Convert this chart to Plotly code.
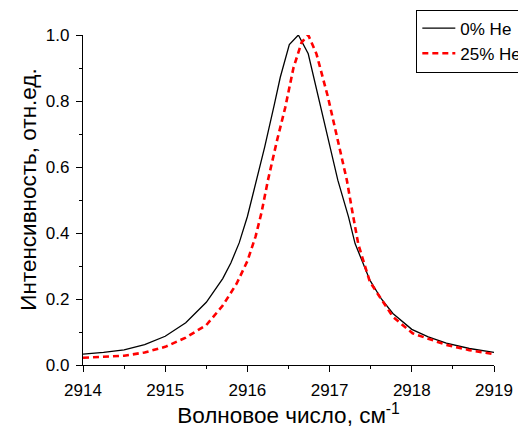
import plotly.graph_objects as go

# 0% He
x_he0 = [2914.0, 2914.25, 2914.5, 2914.75, 2915.0, 2915.25, 2915.5, 2915.7, 2915.8, 2915.9,
         2916.0, 2916.11, 2916.21, 2916.33, 2916.40, 2916.51, 2916.62, 2916.74, 2916.86, 2916.98,
         2917.10, 2917.23, 2917.31, 2917.49, 2917.63, 2917.77, 2918.0, 2918.2, 2918.42, 2918.7, 2919.0]
y_he0 = [0.033, 0.038, 0.046, 0.062, 0.087, 0.128, 0.19, 0.262, 0.31, 0.37,
         0.45, 0.56, 0.66, 0.792, 0.872, 0.971, 1.0, 0.943, 0.812, 0.681,
         0.56, 0.449, 0.368, 0.257, 0.20, 0.156, 0.108, 0.085, 0.066, 0.050, 0.038]

# 25% He
x_he25 = [2914.0, 2914.25, 2914.5, 2914.75, 2915.0, 2915.25, 2915.5, 2915.7, 2915.87, 2916.0,
          2916.1, 2916.17, 2916.25, 2916.36, 2916.46, 2916.56, 2916.66, 2916.74, 2916.84, 2916.98,
          2917.10, 2917.21, 2917.28, 2917.35, 2917.49, 2917.77, 2918.01, 2918.42, 2918.7, 2919.0]
y_he25 = [0.022, 0.024, 0.028, 0.038, 0.055, 0.083, 0.121, 0.18, 0.247, 0.315,
          0.39, 0.46, 0.56, 0.68, 0.78, 0.90, 0.978, 1.0, 0.943, 0.812,
          0.681, 0.56, 0.46, 0.365, 0.252, 0.146, 0.096, 0.061, 0.045, 0.033]

series_names = ["0% He", "25% He"]
x_title = "Волновое число, см<sup>-1</sup>"
y_title = "Интенсивность, отн.ед."

FONT = "Liberation Sans, Arial, sans-serif"

fig = go.Figure()
fig.add_trace(go.Scatter(x=x_he0, y=y_he0, mode="lines", name=series_names[0],
                         line=dict(color="black", width=1.3)))
fig.add_trace(go.Scatter(x=x_he25, y=y_he25, mode="lines", name=series_names[1],
                         line=dict(color="#ff0000", width=2.6, dash="6px,4px")))

axis_common = dict(
    showline=True, linecolor="black", linewidth=1.3, mirror=False,
    ticks="outside", ticklen=6, tickwidth=1.3, tickcolor="black",
    showgrid=False, zeroline=False, ticklabelstandoff=3, automargin=False,
    tickfont=dict(family=FONT, size=17, color="black"),
)

fig.update_xaxes(range=[2914, 2919], dtick=1, tickformat="d",
                 minor=dict(ticks="outside", ticklen=3, tickwidth=1.3, tickcolor="black", dtick=0.5),
                 title=dict(text=x_title, font=dict(family=FONT, size=22.5, color="black"), standoff=8),
                 **axis_common)
fig.update_yaxes(range=[0, 1.0], dtick=0.2, tickformat=".1f",
                 minor=dict(ticks="outside", ticklen=3, tickwidth=1.3, tickcolor="black", dtick=0.1),
                 **axis_common)

# y-axis title (placed as rotated text, slightly above the axis centre as in the original)
fig.add_annotation(text=y_title, xref="paper", yref="paper", x=-0.1347, y=0.53,
                   xanchor="center", yanchor="middle", textangle=-90, showarrow=False,
                   font=dict(family=FONT, size=22.5, color="black"))

fig.update_layout(
    width=518, height=420,
    margin=dict(l=74.5, r=31.5, t=26.5, b=63, autoexpand=False),
    paper_bgcolor="white", plot_bgcolor="white",
    font=dict(family=FONT, size=17, color="black"),
    legend=dict(x=0.811, y=1.077, xanchor="left", yanchor="top",
                bordercolor="black", borderwidth=1, bgcolor="white",
                font=dict(family=FONT, size=17, color="black"),
                tracegroupgap=0, itemwidth=33),
    showlegend=True,
)

fig.write_html("out.html")
